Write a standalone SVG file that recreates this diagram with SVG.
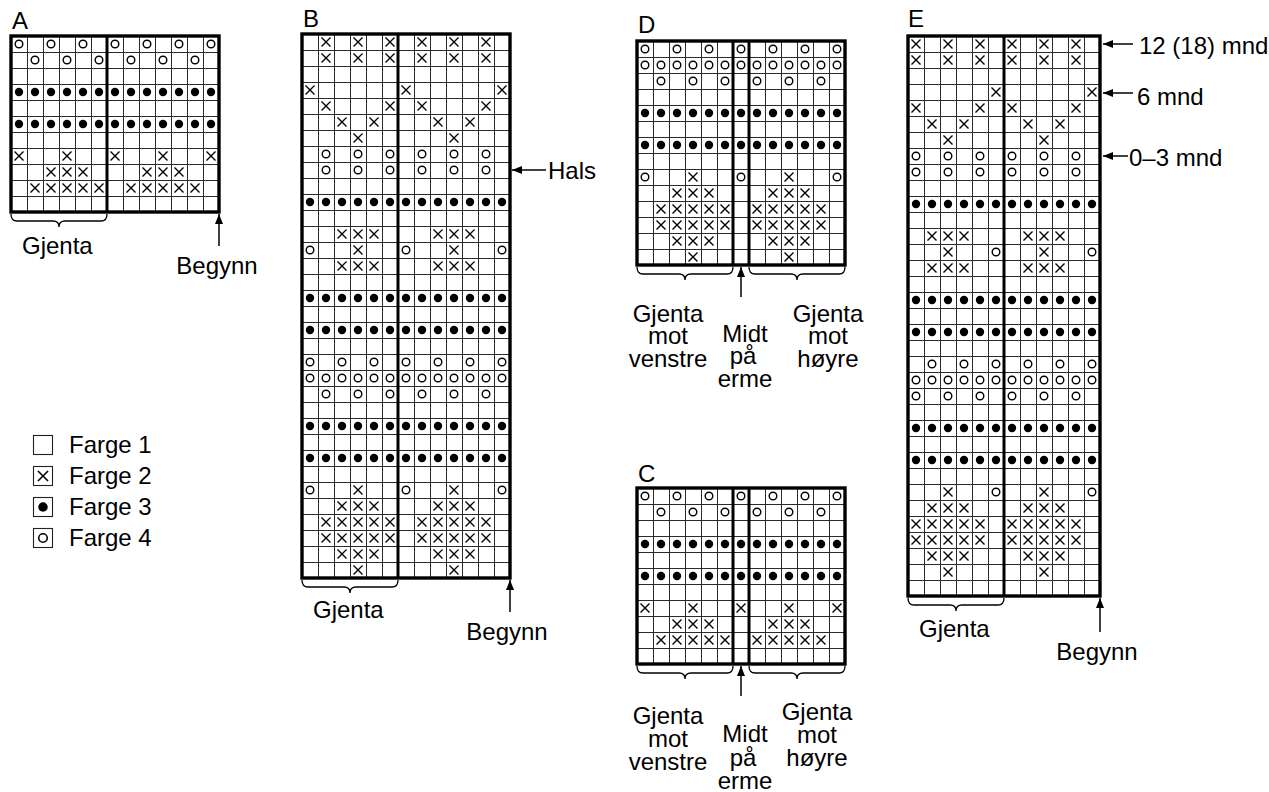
<svg xmlns="http://www.w3.org/2000/svg" xmlns:xlink="http://www.w3.org/1999/xlink" width="1269" height="792" viewBox="0 0 1269 792">
<style>
.t{font-family:"Liberation Sans",Arial,Helvetica,sans-serif;font-size:24px;fill:#000}
.tm{text-anchor:middle}
.bd{fill:none;stroke:#000;stroke-width:3.4}
.dv{stroke:#000;stroke-width:3}
.br{fill:none;stroke:#000;stroke-width:1.3}
.ar{fill:none;stroke:#000;stroke-width:1.5;marker-end:url(#ah)}
.lb{fill:#fff;stroke:#222;stroke-width:1.1}
</style>
<defs>
<pattern id="grid" width="16" height="16" patternUnits="userSpaceOnUse"><rect width="16" height="16" fill="#fff"/><path d="M0,0.5H16M0.5,0V16" stroke="#2a2a2a" stroke-width="1"/></pattern>
<marker id="ah" markerWidth="10" markerHeight="8" refX="10" refY="4" orient="auto" markerUnits="userSpaceOnUse"><path d="M0,0 L10,4 L0,8 z" fill="#000"/></marker>
<path id="x" d="M3.5,3.5L12.5,12.5M12.5,3.5L3.5,12.5" stroke="#000" stroke-width="1.4" fill="none"/>
<circle id="o" cx="8" cy="8" r="3.8" fill="none" stroke="#000" stroke-width="1.4"/>
<circle id="d" cx="8" cy="8" r="4.2" fill="#000"/>
<path id="brace" class="br" d="M0,0Q0,7 6,7H42Q48,7 48,13Q48,7 54,7H90Q96,7 96,0"/>
<clipPath id="clipE"><rect x="0" y="0" width="192" height="560"/></clipPath>
<g id="r_dots"><use href="#d"/><use href="#d" x="16"/><use href="#d" x="32"/><use href="#d" x="48"/><use href="#d" x="64"/><use href="#d" x="80"/><use href="#d" x="96"/><use href="#d" x="112"/><use href="#d" x="128"/><use href="#d" x="144"/><use href="#d" x="160"/><use href="#d" x="176"/><use href="#d" x="192"/></g>
<g id="r_oe"><use href="#o"/><use href="#o" x="32"/><use href="#o" x="64"/><use href="#o" x="96"/><use href="#o" x="128"/><use href="#o" x="160"/><use href="#o" x="192"/></g>
<g id="r_oo"><use href="#o" x="16"/><use href="#o" x="48"/><use href="#o" x="80"/><use href="#o" x="112"/><use href="#o" x="144"/><use href="#o" x="176"/></g>
<g id="r_oa"><use href="#r_oe"/><use href="#r_oo"/></g>
<g id="r_xa"><use href="#x"/><use href="#x" x="48"/><use href="#x" x="96"/><use href="#x" x="144"/><use href="#x" x="192"/></g>
<g id="r_xb"><use href="#x" x="32"/><use href="#x" x="48"/><use href="#x" x="64"/><use href="#x" x="128"/><use href="#x" x="144"/><use href="#x" x="160"/></g>
<g id="r_xc"><use href="#x" x="16"/><use href="#x" x="32"/><use href="#x" x="48"/><use href="#x" x="64"/><use href="#x" x="80"/><use href="#x" x="112"/><use href="#x" x="128"/><use href="#x" x="144"/><use href="#x" x="160"/><use href="#x" x="176"/></g>
<g id="r_oxo"><use href="#o"/><use href="#x" x="48"/><use href="#o" x="96"/><use href="#x" x="144"/><use href="#o" x="192"/></g>
<g id="r_xd"><use href="#x" x="48"/><use href="#x" x="144"/></g>
<g id="r_xe"><use href="#x" x="16"/><use href="#x" x="48"/><use href="#x" x="80"/><use href="#x" x="112"/><use href="#x" x="144"/><use href="#x" x="176"/></g>
<g id="r_xf"><use href="#x"/><use href="#x" x="96"/><use href="#x" x="192"/></g>
<g id="r_xg"><use href="#x" x="16"/><use href="#x" x="80"/><use href="#x" x="112"/><use href="#x" x="176"/></g>
<g id="r_xh"><use href="#x" x="32"/><use href="#x" x="64"/><use href="#x" x="128"/><use href="#x" x="160"/></g>
<g id="m_A"><use href="#r_oe"/><use href="#r_oo" y="16"/><use href="#r_dots" y="48"/><use href="#r_dots" y="80"/><use href="#r_xa" y="112"/><use href="#r_xb" y="128"/><use href="#r_xc" y="144"/></g>
<g id="m_D"><use href="#r_oe"/><use href="#r_oa" y="16"/><use href="#r_oo" y="32"/><use href="#r_dots" y="64"/><use href="#r_dots" y="96"/><use href="#r_oxo" y="128"/><use href="#r_xb" y="144"/><use href="#r_xc" y="160"/><use href="#r_xc" y="176"/><use href="#r_xb" y="192"/><use href="#r_xd" y="208"/></g>
<g id="m_B"><use href="#r_xe"/><use href="#r_xe" y="16"/><use href="#r_xf" y="48"/><use href="#r_xg" y="64"/><use href="#r_xh" y="80"/><use href="#r_xd" y="96"/><use href="#r_oo" y="112"/><use href="#r_oo" y="128"/><use href="#r_dots" y="160"/><use href="#r_xb" y="192"/><use href="#r_oxo" y="208"/><use href="#r_xb" y="224"/><use href="#r_dots" y="256"/><use href="#r_dots" y="288"/><use href="#m_D" y="320"/></g>
</defs>
<rect width="1269" height="792" fill="#fff"/>

<g id="chartA" transform="translate(11,36)">
<rect width="208" height="176" fill="url(#grid)"/>
<use href="#m_A"/>
<line class="dv" x1="96" y1="0" x2="96" y2="176"/>
<rect class="bd" width="208" height="176"/>
</g>
<g id="chartB" transform="translate(302,34)">
<rect width="208" height="544" fill="url(#grid)"/>
<use href="#m_B"/>
<line class="dv" x1="96" y1="0" x2="96" y2="544"/>
<rect class="bd" width="208" height="544"/>
</g>
<g id="chartD" transform="translate(637,41)">
<rect width="208" height="224" fill="url(#grid)"/>
<use href="#m_D"/>
<line class="dv" x1="96" y1="0" x2="96" y2="224"/>
<line class="dv" x1="112" y1="0" x2="112" y2="224"/>
<rect class="bd" width="208" height="224"/>
</g>
<g id="chartC" transform="translate(637,488)">
<rect width="208" height="176" fill="url(#grid)"/>
<use href="#m_A"/>
<line class="dv" x1="96" y1="0" x2="96" y2="176"/>
<line class="dv" x1="112" y1="0" x2="112" y2="176"/>
<rect class="bd" width="208" height="176"/>
</g>
<g id="chartE" transform="translate(908,36)">
<rect width="192" height="560" fill="url(#grid)"/>
<g clip-path="url(#clipE)"><use href="#m_B" x="-16"/></g>
<line class="dv" x1="96" y1="0" x2="96" y2="560"/>
<rect class="bd" width="192" height="560"/>
</g>

<g id="braces">
<use href="#brace" x="11" y="214"/>
<use href="#brace" x="302" y="580"/>
<use href="#brace" x="637" y="267"/>
<use href="#brace" x="749" y="267"/>
<use href="#brace" x="637" y="666"/>
<use href="#brace" x="749" y="666"/>
<use href="#brace" x="908" y="598"/>
</g>

<g id="connectors">
<line class="ar" x1="219" y1="246" x2="219" y2="214"/>
<line class="ar" x1="510" y1="612" x2="510" y2="580"/>
<line class="ar" x1="1100" y1="632" x2="1100" y2="598"/>
<line class="ar" x1="741" y1="297" x2="741" y2="267"/>
<line class="ar" x1="741" y1="696" x2="741" y2="666"/>
<line class="ar" x1="546" y1="170" x2="512" y2="170"/>
<line class="ar" x1="1133" y1="44" x2="1103" y2="44"/>
<line class="ar" x1="1133" y1="93" x2="1103" y2="93"/>
<line class="ar" x1="1128" y1="156" x2="1103" y2="156"/>
</g>

<g id="labels">
<text class="t" x="12" y="29">A</text>
<text class="t" x="303" y="27">B</text>
<text class="t" x="638" y="33">D</text>
<text class="t" x="638" y="482">C</text>
<text class="t" x="908" y="27">E</text>
<text class="t" x="22" y="254">Gjenta</text>
<text class="t tm" x="217" y="274">Begynn</text>
<text class="t" x="313" y="618">Gjenta</text>
<text class="t tm" x="507" y="640">Begynn</text>
<text class="t" x="548" y="179">Hals</text>
<text class="t" x="919" y="637">Gjenta</text>
<text class="t tm" x="1097" y="660">Begynn</text>
<text class="t" x="1139" y="54">12 (18) mnd</text>
<text class="t" x="1137" y="105">6 mnd</text>
<text class="t" x="1129" y="166">0–3 mnd</text>
<text class="t tm" x="668" y="322">Gjenta</text>
<text class="t tm" x="668" y="344">mot</text>
<text class="t tm" x="668" y="367">venstre</text>
<text class="t tm" x="745" y="342">Midt</text>
<text class="t tm" x="743" y="364">på</text>
<text class="t tm" x="745" y="387">erme</text>
<text class="t tm" x="828" y="322">Gjenta</text>
<text class="t tm" x="828" y="344">mot</text>
<text class="t tm" x="828" y="367">høyre</text>
<text class="t tm" x="668" y="724">Gjenta</text>
<text class="t tm" x="668" y="747">mot</text>
<text class="t tm" x="668" y="770">venstre</text>
<text class="t tm" x="745" y="742">Midt</text>
<text class="t tm" x="743" y="766">på</text>
<text class="t tm" x="745" y="789">erme</text>
<text class="t tm" x="817" y="720">Gjenta</text>
<text class="t tm" x="817" y="743">mot</text>
<text class="t tm" x="817" y="766">høyre</text>
</g>

<g id="legend">
<rect class="lb" x="33.5" y="435.5" width="19" height="19"/>
<rect class="lb" x="33.5" y="466.5" width="19" height="19"/>
<use href="#x" transform="translate(34,467) scale(1.125)"/>
<rect class="lb" x="33.5" y="497.5" width="19" height="19"/>
<use href="#d" transform="translate(34,498) scale(1.125)"/>
<rect class="lb" x="33.5" y="528.5" width="19" height="19"/>
<use href="#o" transform="translate(34,529) scale(1.125)"/>
<text class="t" x="69" y="453">Farge 1</text>
<text class="t" x="69" y="484">Farge 2</text>
<text class="t" x="69" y="515">Farge 3</text>
<text class="t" x="69" y="546">Farge 4</text>
</g>
</svg>
